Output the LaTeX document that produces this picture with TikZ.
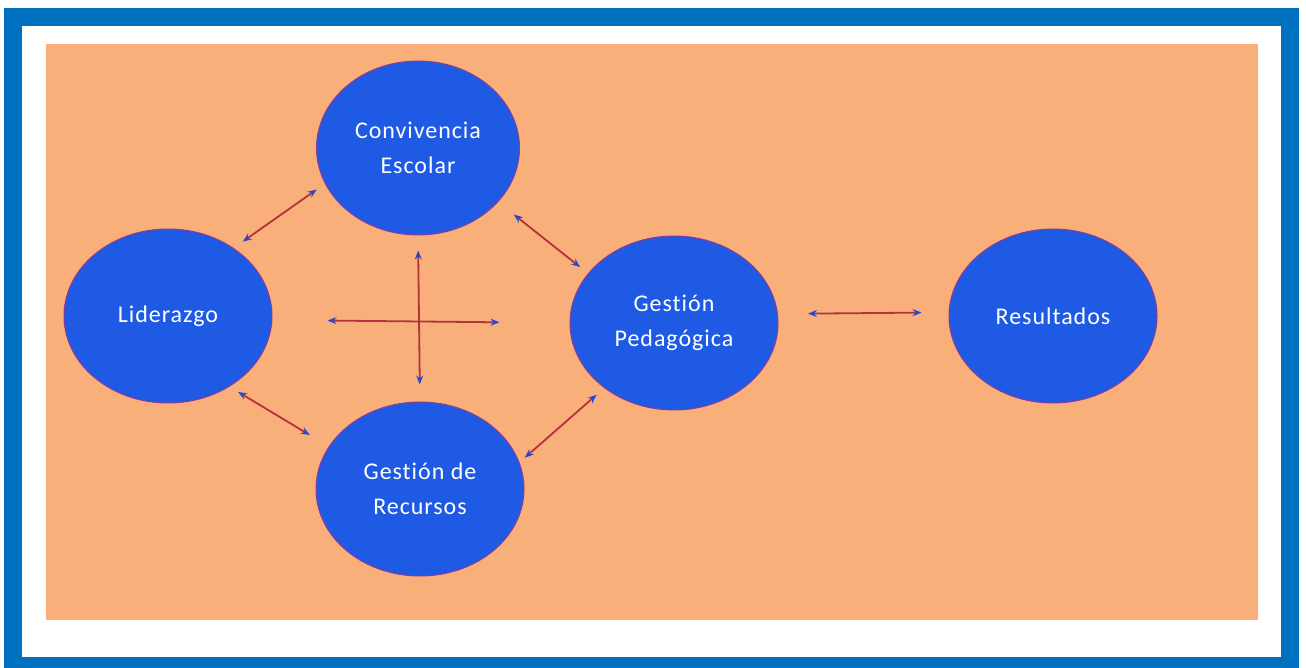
\documentclass[tikz,border=0pt]{standalone}
\usepackage{fontspec}
\setmainfont{Carlito}[Ligatures=NoCommon, LetterSpace=4]
\usetikzlibrary{shapes.geometric,arrows.meta}
\definecolor{frameblue}{RGB}{0,112,192}
\definecolor{bgorange}{RGB}{248,175,122}
\definecolor{ellfill}{RGB}{30,90,228}
\definecolor{ellline}{RGB}{140,60,150}
\definecolor{arrred}{RGB}{180,50,60}
\definecolor{tipblue}{RGB}{40,70,210}
\tikzset{
  bubble/.style={ellipse, draw=ellline, line width=1pt, fill=ellfill,
    minimum width=208pt, minimum height=174pt, inner sep=0pt,
    text=white, align=center, font=\fontsize{24}{35}\selectfont},
  link/.style={draw=arrred, line width=1.8pt,
    {Stealth[length=9pt,width=7pt,color=tipblue]}-{Stealth[length=9pt,width=7pt,color=tipblue]}}
}
\begin{document}
\begin{tikzpicture}[x=1pt,y=-1pt]
\useasboundingbox (0,0) rectangle (1306,668);
\fill[white] (0,0) rectangle (1306,668);
\fill[frameblue] (4,8) rectangle (1299,668);
\fill[white] (22,26) rectangle (1281,657);
\fill[bgorange] (46,44) rectangle (1258,620);

\node[bubble] (lid) at (168,316) {Liderazgo};
\node[bubble, minimum width=203pt] (conv) at (418,148) {Convivencia\\Escolar};
\node[bubble] (rec) at (420,489) {Gestión de\\Recursos};
\node[bubble] (ped) at (674,323) {Gestión\\Pedagógica};
\node[bubble] (res) at (1053,316) {Resultados};

\draw[link, shorten <=11pt, shorten >=10pt] (lid.46) -- (conv.201);
\draw[link, shorten <=20pt, shorten >=10pt] (conv.-34) -- (ped.150);
\draw[link, shorten <=10pt, shorten >=22pt] (lid.-49) -- (rec.155);
\draw[link, shorten <=7pt, shorten >=10pt] (rec.15) -- (ped.223);
\draw[link, shorten <=55pt, shorten >=70pt] ([yshift=-4pt]lid.east) -- (ped.west);
\draw[link, shorten <=15pt, shorten >=17pt] (conv.south) -- (rec.north);
\draw[link, shorten <=30pt, shorten >=27pt] (ped.5) -- (res.178);
\end{tikzpicture}
\end{document}
